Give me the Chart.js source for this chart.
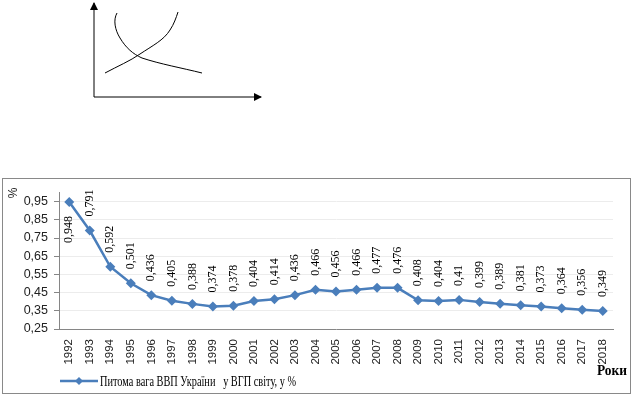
<!DOCTYPE html>
<html>
<head>
<meta charset="utf-8">
<script src="https://cdn.jsdelivr.net/npm/chart.js@4"></script>
<style>
  body { margin: 0; background: #fff; width: 633px; height: 395px; position: relative; overflow: hidden; }
  #sketch { position: absolute; left: 0; top: 0; }
  #box { position: absolute; left: 2px; top: 178px; width: 627px; height: 214px; border: 1px solid #898989; }
</style>
</head>
<body>
<!-- little sketch above the chart -->
<svg id="sketch" width="300" height="110">
  <defs>
    <marker id="arr" markerWidth="8" markerHeight="8" refX="7" refY="4" orient="auto">
      <path d="M0,0 L8,4 L0,8 Z" fill="#000"/>
    </marker>
  </defs>
  <line x1="94" y1="97" x2="94" y2="3" stroke="#000" stroke-width="1" marker-end="url(#arr)"/>
  <line x1="94" y1="97" x2="261" y2="97" stroke="#000" stroke-width="1" marker-end="url(#arr)"/>
  <path d="M117,13 C113,20 115,30 120,38 C126,48 133,54 142,58 C160,64 182,68 202,73" fill="none" stroke="#000" stroke-width="1"/>
  <path d="M105,73 C118,66 130,61 140,54 C152,46 164,40 170,30 C174,24 176,18 178,12" fill="none" stroke="#000" stroke-width="1"/>
</svg>

<div id="box"><canvas id="myChart"></canvas></div>

<script>
// Дані
const years = ['1992', '1993', '1994', '1995', '1996', '1997', '1998', '1999', '2000',
  '2001', '2002', '2003', '2004', '2005', '2006', '2007', '2008', '2009', '2010',
  '2011', '2012', '2013', '2014', '2015', '2016', '2017', '2018'];
const share = [0.948, 0.791, 0.592, 0.501, 0.436, 0.405, 0.388, 0.374, 0.378,
  0.404, 0.414, 0.436, 0.466, 0.456, 0.466, 0.477, 0.476, 0.408, 0.404,
  0.41, 0.399, 0.389, 0.381, 0.373, 0.364, 0.356, 0.349];
const yTicks = [0.25, 0.35, 0.45, 0.55, 0.65, 0.75, 0.85, 0.95];
const seriesName = 'Питома вага ВВП України   у ВГП світу, у %';
const xTitle = 'Роки';
const yTitle = '%';

const blue = '#4a7ebb';
const comma = v => String(v).replace('.', ',');

// підписи значень, назви осей і легенда
const extras = {
  id: 'extras',
  afterDatasetsDraw(chart) {
    const ctx = chart.ctx;
    const meta = chart.getDatasetMeta(0);
    ctx.save();
    ctx.fillStyle = '#000';
    ctx.font = '12px "Liberation Serif", serif';
    ctx.textBaseline = 'middle';
    meta.data.forEach((pt, i) => {
      const txt = comma(share[i]);
      const w = ctx.measureText(txt).width;
      ctx.save();
      if (pt.y - 14 - w < 0) {
        ctx.translate(pt.x, pt.y + 14);
        ctx.rotate(-Math.PI / 2);
        ctx.textAlign = 'right';
      } else {
        ctx.translate(pt.x, pt.y - 14);
        ctx.rotate(-Math.PI / 2);
        ctx.textAlign = 'left';
      }
      ctx.fillText(txt, 0, 0);
      ctx.restore();
    });

    // %
    ctx.save();
    ctx.font = '12px "Liberation Sans", sans-serif';
    ctx.translate(11, 14);
    ctx.rotate(-Math.PI / 2);
    ctx.textAlign = 'center';
    ctx.fillStyle = '#222';
    ctx.fillText(yTitle, 0, 0);
    ctx.restore();

    // Роки
    ctx.font = 'bold 14px "Liberation Serif", serif';
    ctx.textAlign = 'left';
    ctx.fillText(xTitle, 594, 192, 30);

    // легенда
    const ly = 202;
    ctx.strokeStyle = blue;
    ctx.lineWidth = 2.5;
    ctx.beginPath();
    ctx.moveTo(57, ly);
    ctx.lineTo(95, ly);
    ctx.stroke();
    ctx.fillStyle = blue;
    ctx.beginPath();
    ctx.moveTo(76, ly - 4);
    ctx.lineTo(80, ly);
    ctx.lineTo(76, ly + 4);
    ctx.lineTo(72, ly);
    ctx.closePath();
    ctx.fill();
    ctx.fillStyle = '#000';
    ctx.font = '14px "Liberation Serif", serif';
    ctx.fillText(seriesName, 97, ly + 1, 196);
    ctx.restore();
  }
};

new Chart(document.getElementById('myChart'), {
  type: 'line',
  data: {
    labels: years,
    datasets: [{
      label: seriesName,
      data: share,
      borderColor: blue,
      backgroundColor: blue,
      borderWidth: 2.5,
      pointStyle: 'rectRot',
      pointRadius: 5,
      pointBorderWidth: 0,
      tension: 0
    }]
  },
  options: {
    responsive: true,
    maintainAspectRatio: false,
    animation: false,
    layout: { padding: { top: 11, right: 17, left: 0, bottom: 0 } },
    plugins: {
      legend: { display: false },
      tooltip: { enabled: false }
    },
    scales: {
      x: {
        offset: true,
        grid: { display: false },
        border: { color: '#868686' },
        ticks: {
          minRotation: 90,
          maxRotation: 90,
          padding: 2,
          color: '#222',
          font: { family: 'Liberation Sans', size: 11.5 }
        },
        afterFit: s => { s.height = 64; s.paddingLeft = 0; s.paddingRight = 0; }
      },
      y: {
        min: 0.25,
        max: 1.0,
        grid: { color: '#ececec', tickColor: '#868686', tickLength: 5 },
        border: { color: '#868686' },
        ticks: {
          padding: 6,
          color: '#222',
          font: { family: 'Liberation Sans', size: 12.5 },
          callback: v => v.toFixed(2).replace('.', ',')
        },
        afterBuildTicks: s => { s.ticks = yTicks.map(v => ({ value: v })); },
        afterFit: s => { s.width = 56; }
      }
    }
  },
  plugins: [extras]
});
</script>
</body>
</html>
